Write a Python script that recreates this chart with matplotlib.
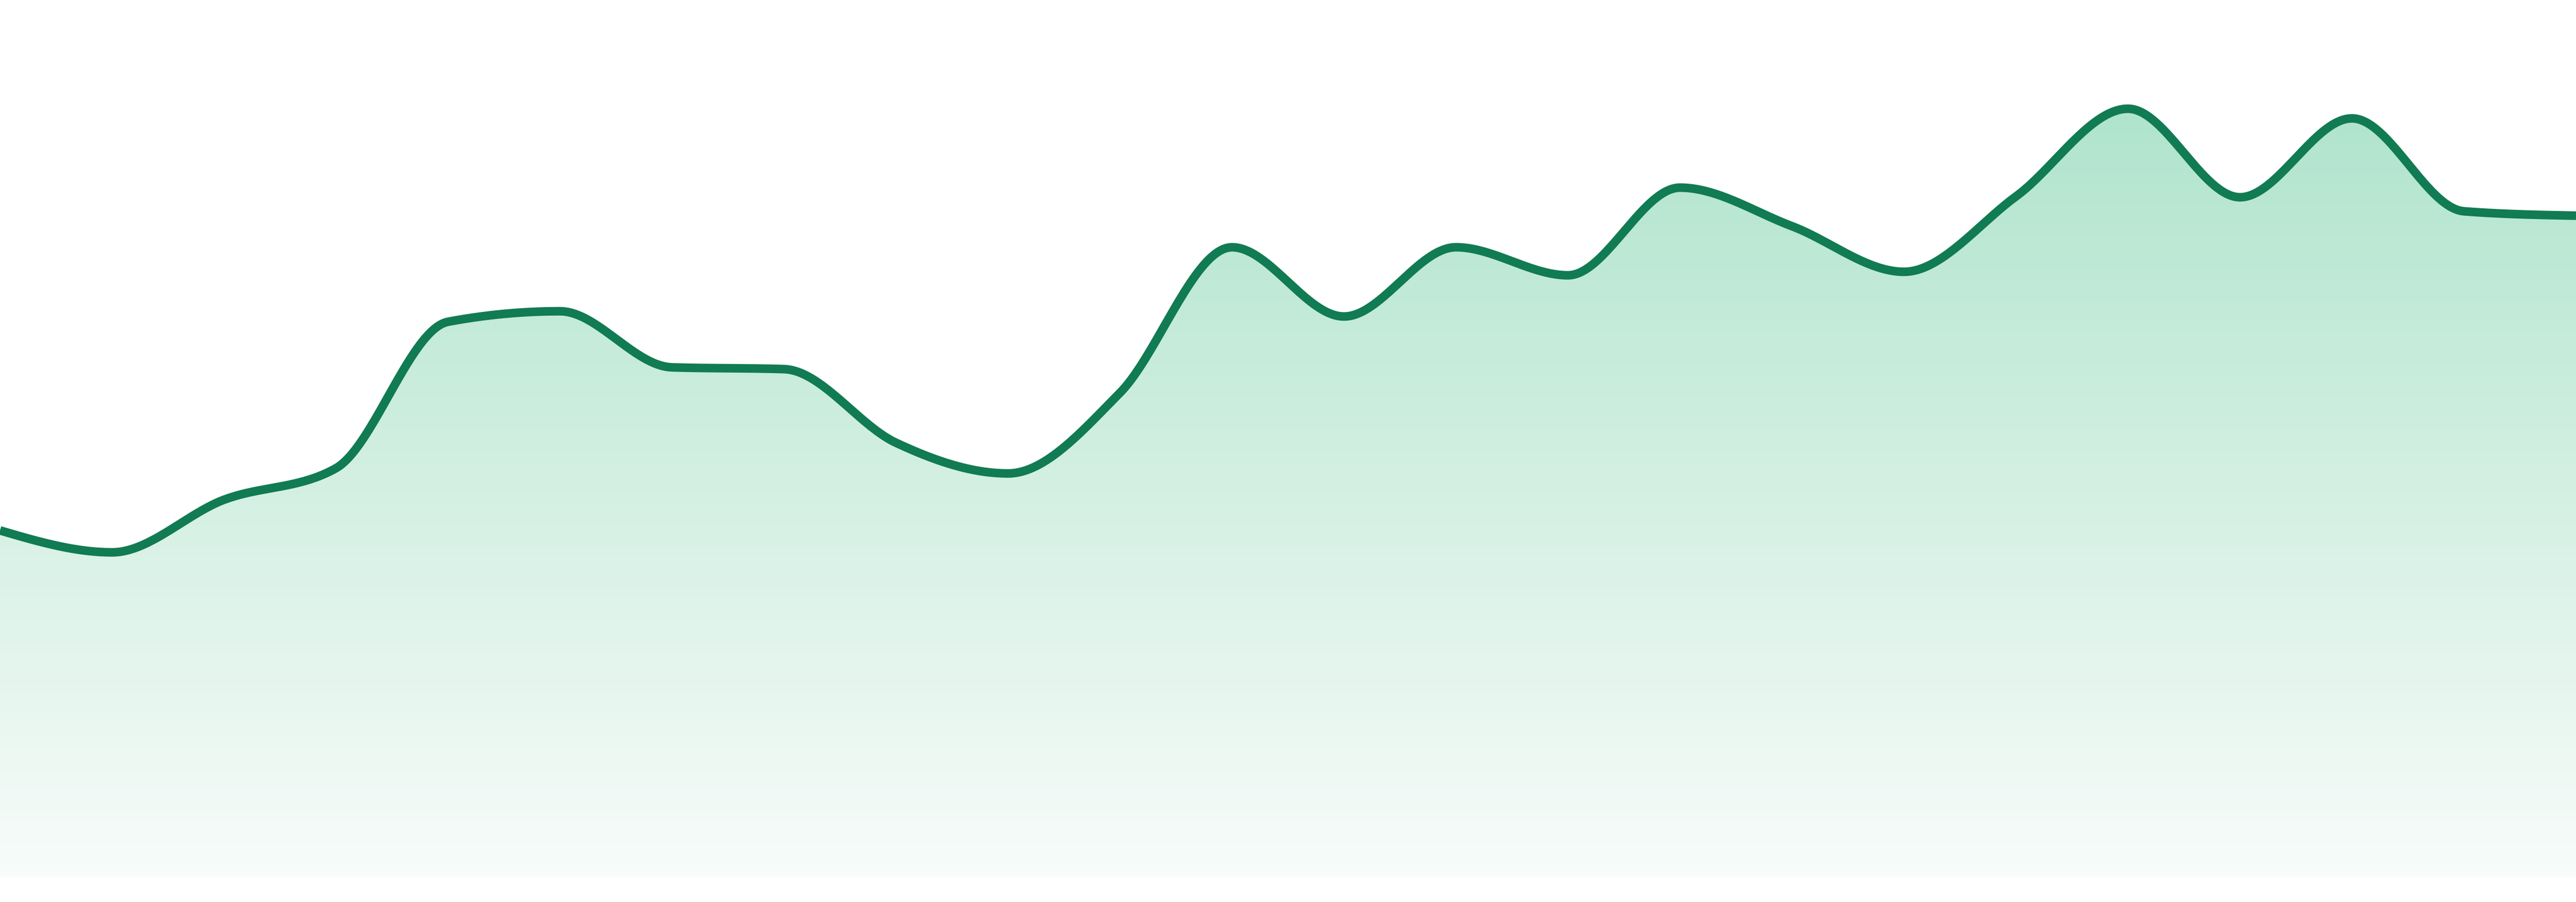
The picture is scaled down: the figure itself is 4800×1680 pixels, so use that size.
import numpy as np
import matplotlib
matplotlib.use("Agg")
import matplotlib.pyplot as plt
from matplotlib.colors import LinearSegmentedColormap

# datos: 24 puntos equiespaciados (escala 0-100)
puntos = list(range(24))
valores = [39.5, 37.0, 43.0, 46.6, 63.3, 64.5, 58.1, 57.9, 49.5, 46.0, 55.2, 71.8,
           63.9, 71.8, 68.6, 78.6, 74.2, 69.0, 77.6, 87.6, 77.5, 86.5, 75.9, 75.4]

color_linea = "#117b53"
color_arriba = "#b0e4cd"
color_abajo = "#f8fcfa"


def curva_monotona(x, y, n=40):
    # curva monotona tipo d3.curveMonotoneX
    x = np.asarray(x, float)
    y = np.asarray(y, float)
    h = np.diff(x)
    s = np.diff(y) / h
    t = np.zeros(len(x))
    for i in range(1, len(x) - 1):
        p = (s[i - 1] * h[i] + s[i] * h[i - 1]) / (h[i - 1] + h[i])
        t[i] = (np.sign(s[i - 1]) + np.sign(s[i])) * min(abs(s[i - 1]), abs(s[i]), 0.5 * abs(p))
    t[0] = (3 * s[0] - t[1]) / 2
    t[-1] = (3 * s[-1] - t[-2]) / 2
    xs, ys = [], []
    u = np.linspace(0, 1, n, endpoint=False)
    for i in range(len(x) - 1):
        dx = h[i] / 3
        p0 = (x[i], y[i])
        p1 = (x[i] + dx, y[i] + dx * t[i])
        p2 = (x[i + 1] - dx, y[i + 1] - dx * t[i + 1])
        p3 = (x[i + 1], y[i + 1])
        b = [(1 - u) ** 3, 3 * u * (1 - u) ** 2, 3 * u ** 2 * (1 - u), u ** 3]
        xs.append(sum(bk * pk[0] for bk, pk in zip(b, (p0, p1, p2, p3))))
        ys.append(sum(bk * pk[1] for bk, pk in zip(b, (p0, p1, p2, p3))))
    xs.append([x[-1]])
    ys.append([y[-1]])
    return np.concatenate(xs), np.concatenate(ys)


fig = plt.figure(figsize=(16, 5.6), dpi=300)
ax = fig.add_axes([0, 0, 1, 1])
ax.set_xlim(0, 23)
ax.set_ylim(-2.88, 100)
ax.axis("off")

cx, cy = curva_monotona(puntos, valores)

relleno = ax.fill_between(cx, cy, 0, facecolor="none", edgecolor="none")
degradado = LinearSegmentedColormap.from_list("verde", [color_abajo, color_arriba])
grad = np.linspace(0, 1, 256).reshape(-1, 1)
im = ax.imshow(grad, cmap=degradado, aspect="auto", origin="lower",
               extent=[0, 23, 0, 87.7], interpolation="bicubic", zorder=1)
im.set_clip_path(relleno.get_paths()[0], transform=ax.transData)

ax.plot(cx, cy, color=color_linea, linewidth=3.85, solid_capstyle="butt", zorder=2)

fig.savefig("out.png", dpi=300, facecolor="white")
